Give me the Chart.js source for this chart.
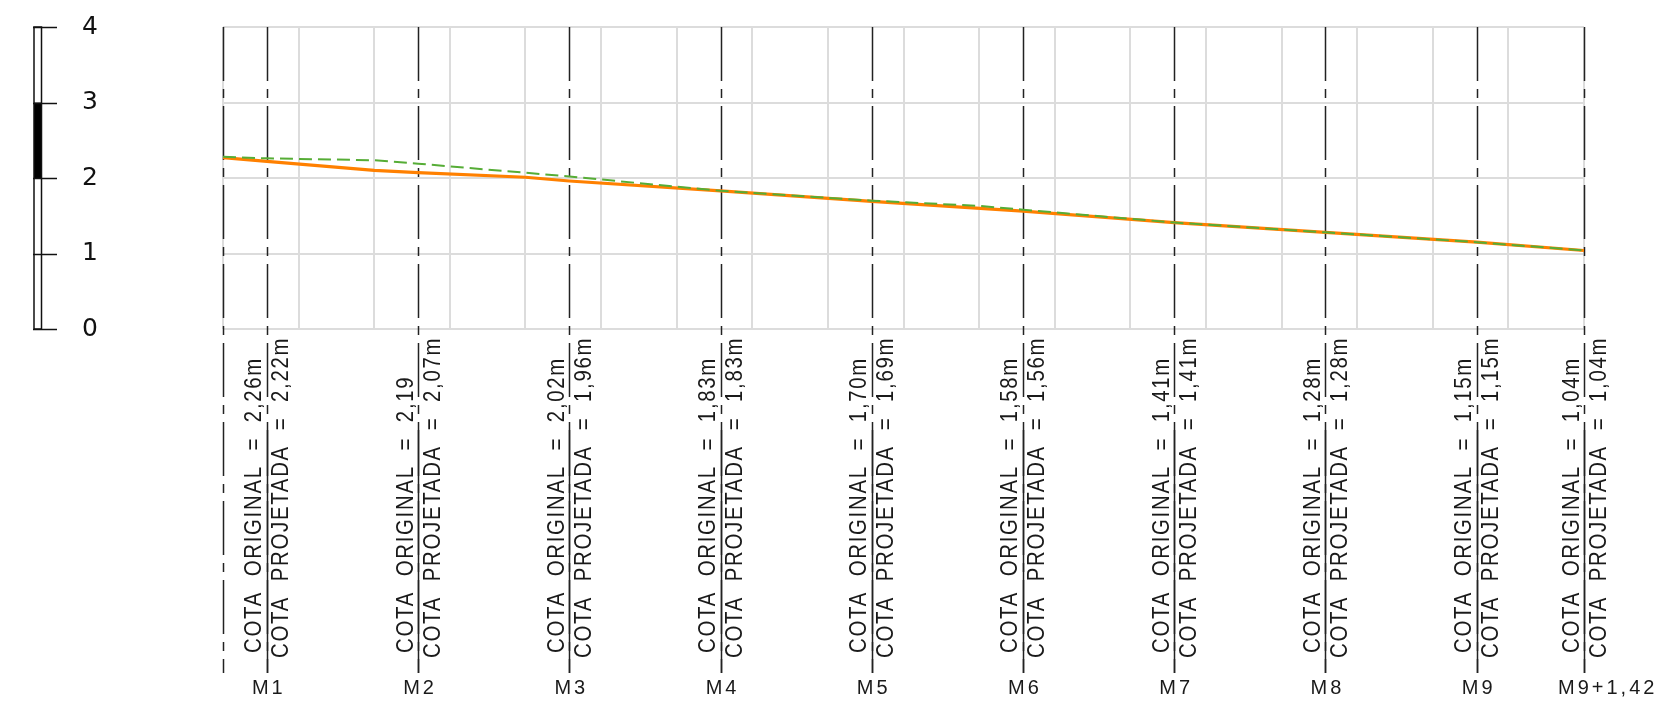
<!DOCTYPE html>
<html>
<head>
<meta charset="utf-8">
<script src="https://cdn.jsdelivr.net/npm/chart.js@4.4.1/dist/chart.umd.min.js"></script>
<style>
  html, body { margin: 0; padding: 0; background: #fff; }
  #caixa { position: relative; width: 1661px; height: 711px; }
</style>
</head>
<body>
<div id="caixa"><canvas id="perfil"></canvas></div>
<script>
// estacas do perfil (posicao em unidades de grade) e cotas
const estacoes = ['M1', 'M2', 'M3', 'M4', 'M5', 'M6', 'M7', 'M8', 'M9', 'M9+1,42'];
const posicaoEstacoes = [0.58, 2.58, 4.58, 6.58, 8.58, 10.58, 12.58, 14.58, 16.58, 18.0];
const cotaOriginal = [2.26, 2.19, 2.02, 1.83, 1.70, 1.58, 1.41, 1.28, 1.15, 1.04];
const cotaProjetada = [2.22, 2.07, 1.96, 1.83, 1.69, 1.56, 1.41, 1.28, 1.15, 1.04];
const rotuloOriginal = ['2,26m', '2,19', '2,02m', '1,83m', '1,70m', '1,58m', '1,41m', '1,28m', '1,15m', '1,04m'];
const rotuloProjetada = ['2,22m', '2,07m', '1,96m', '1,83m', '1,69m', '1,56m', '1,41m', '1,28m', '1,15m', '1,04m'];

// pontos intermediarios do terreno (fora das estacas)
const extraOriginalX = [0, 2.0, 10.0];
const extraOriginalY = [2.28, 2.235, 1.63];
const extraProjetadoX = [0, 2.0, 4.0];
const extraProjetadoY = [2.27, 2.10, 2.01];

const escalaValores = [0, 1, 2, 3, 4];

function montaPontos(xs, ys, exX, exY) {
  const pts = xs.map((x, i) => ({ x: x, y: ys[i] }));
  exX.forEach((x, i) => pts.push({ x: x, y: exY[i] }));
  return pts.sort((a, b) => a.x - b.x);
}

const fonteTexto = '"Liberation Sans", Arial, sans-serif';

function textoVertical(ctx, txt, x, y) {
  ctx.save();
  ctx.translate(x, y);
  ctx.rotate(-Math.PI / 2);
  ctx.scale(0.85, 1);
  ctx.fillText(txt, 0, 0);
  ctx.restore();
}

const desenhoPerfil = {
  id: 'desenhoPerfil',
  beforeDatasetsDraw(chart) {
    const { ctx, chartArea } = chart;
    const xs = chart.scales.x;
    const fim = chartArea.bottom + 344;
    ctx.save();
    ctx.strokeStyle = '#222';
    ctx.lineWidth = 1.5;
    ctx.setLineDash([54, 8, 9, 8]);
    [xs.min].concat(posicaoEstacoes).forEach(v => {
      const px = Math.round(xs.getPixelForValue(v)) + 0.5;
      ctx.beginPath();
      ctx.moveTo(px, chartArea.top);
      ctx.lineTo(px, fim);
      ctx.stroke();
    });
    ctx.restore();
  },
  afterDraw(chart) {
    const { ctx, chartArea } = chart;
    const xs = chart.scales.x;
    const ys = chart.scales.y;
    const fim = chartArea.bottom + 344;

    ctx.save();
    // traco da fracao (parte cheia da linha da estaca)
    ctx.strokeStyle = '#222';
    ctx.lineWidth = 1.5;
    posicaoEstacoes.forEach(v => {
      const px = Math.round(xs.getPixelForValue(v)) + 0.5;
      ctx.beginPath();
      ctx.moveTo(px, chartArea.bottom + 101);
      ctx.lineTo(px, fim);
      ctx.stroke();
    });

    // textos verticais das cotas
    ctx.fillStyle = '#1a1a1a';
    ctx.font = '24px ' + fonteTexto;
    ctx.letterSpacing = '2px';
    ctx.textAlign = 'left';
    ctx.textBaseline = 'alphabetic';
    posicaoEstacoes.forEach((v, i) => {
      const px = xs.getPixelForValue(v);
      textoVertical(ctx, 'COTA  ORIGINAL  =  ' + rotuloOriginal[i], px - 5.5, fim - 20);
      textoVertical(ctx, 'COTA  PROJETADA  =  ' + rotuloProjetada[i], px + 21.5, fim - 15);
    });

    // nomes das estacas
    ctx.font = '20px ' + fonteTexto;
    ctx.letterSpacing = '3px';
    ctx.textBaseline = 'middle';
    posicaoEstacoes.forEach((v, i) => {
      const px = xs.getPixelForValue(v);
      if (i === estacoes.length - 1) {
        ctx.textAlign = 'left';
        ctx.fillText(estacoes[i], px - 26, fim + 15);
      } else {
        ctx.textAlign = 'center';
        ctx.fillText(estacoes[i], px + 2, fim + 15);
      }
    });

    // escala grafica vertical
    ctx.letterSpacing = '0px';
    const b0 = 34, b1 = 41.5;
    ctx.fillStyle = '#000';
    ctx.fillRect(b0, ys.getPixelForValue(3), b1 - b0, ys.getPixelForValue(2) - ys.getPixelForValue(3));
    ctx.strokeStyle = '#111';
    ctx.lineWidth = 1.5;
    ctx.strokeRect(b0, ys.getPixelForValue(4), b1 - b0, ys.getPixelForValue(0) - ys.getPixelForValue(4));
    escalaValores.forEach(v => {
      const py = Math.round(ys.getPixelForValue(v)) + 0.5;
      ctx.beginPath();
      ctx.moveTo(33, py);
      ctx.lineTo(57, py);
      ctx.stroke();
    });
    ctx.restore();
  }
};

const grade = { color: '#dcdcdc', lineWidth: 2, drawTicks: false };

new Chart(document.getElementById('perfil'), {
  type: 'line',
  data: {
    datasets: [
      {
        label: 'Cota original',
        data: montaPontos(posicaoEstacoes, cotaOriginal, extraOriginalX, extraOriginalY),
        borderColor: '#56ad36',
        borderWidth: 2,
        borderDash: [13, 6],
        pointRadius: 0,
        tension: 0,
        fill: false,
        order: 0
      },
      {
        label: 'Cota projetada',
        data: montaPontos(posicaoEstacoes, cotaProjetada, extraProjetadoX, extraProjetadoY),
        borderColor: '#ff8000',
        borderWidth: 3.2,
        pointRadius: 0,
        tension: 0,
        fill: false,
        order: 1
      }
    ]
  },
  options: {
    responsive: true,
    maintainAspectRatio: false,
    animation: false,
    layout: { padding: { top: 27, right: 77, left: 82, bottom: 0 } },
    plugins: {
      legend: { display: false },
      tooltip: { enabled: false }
    },
    scales: {
      x: {
        type: 'linear',
        min: 0,
        max: 18,
        ticks: { stepSize: 1, display: false },
        grid: grade,
        border: { display: false },
        afterFit: (s) => { s.height = 382; }
      },
      y: {
        min: 0,
        max: 4,
        ticks: {
          stepSize: 1,
          padding: 0,
          crossAlign: 'far',
          color: '#111',
          font: { family: '"DejaVu Sans"', size: 25 }
        },
        grid: grade,
        border: { display: false },
        afterFit: (s) => { s.width = 141; }
      }
    }
  },
  plugins: [desenhoPerfil]
});
</script>
</body>
</html>
